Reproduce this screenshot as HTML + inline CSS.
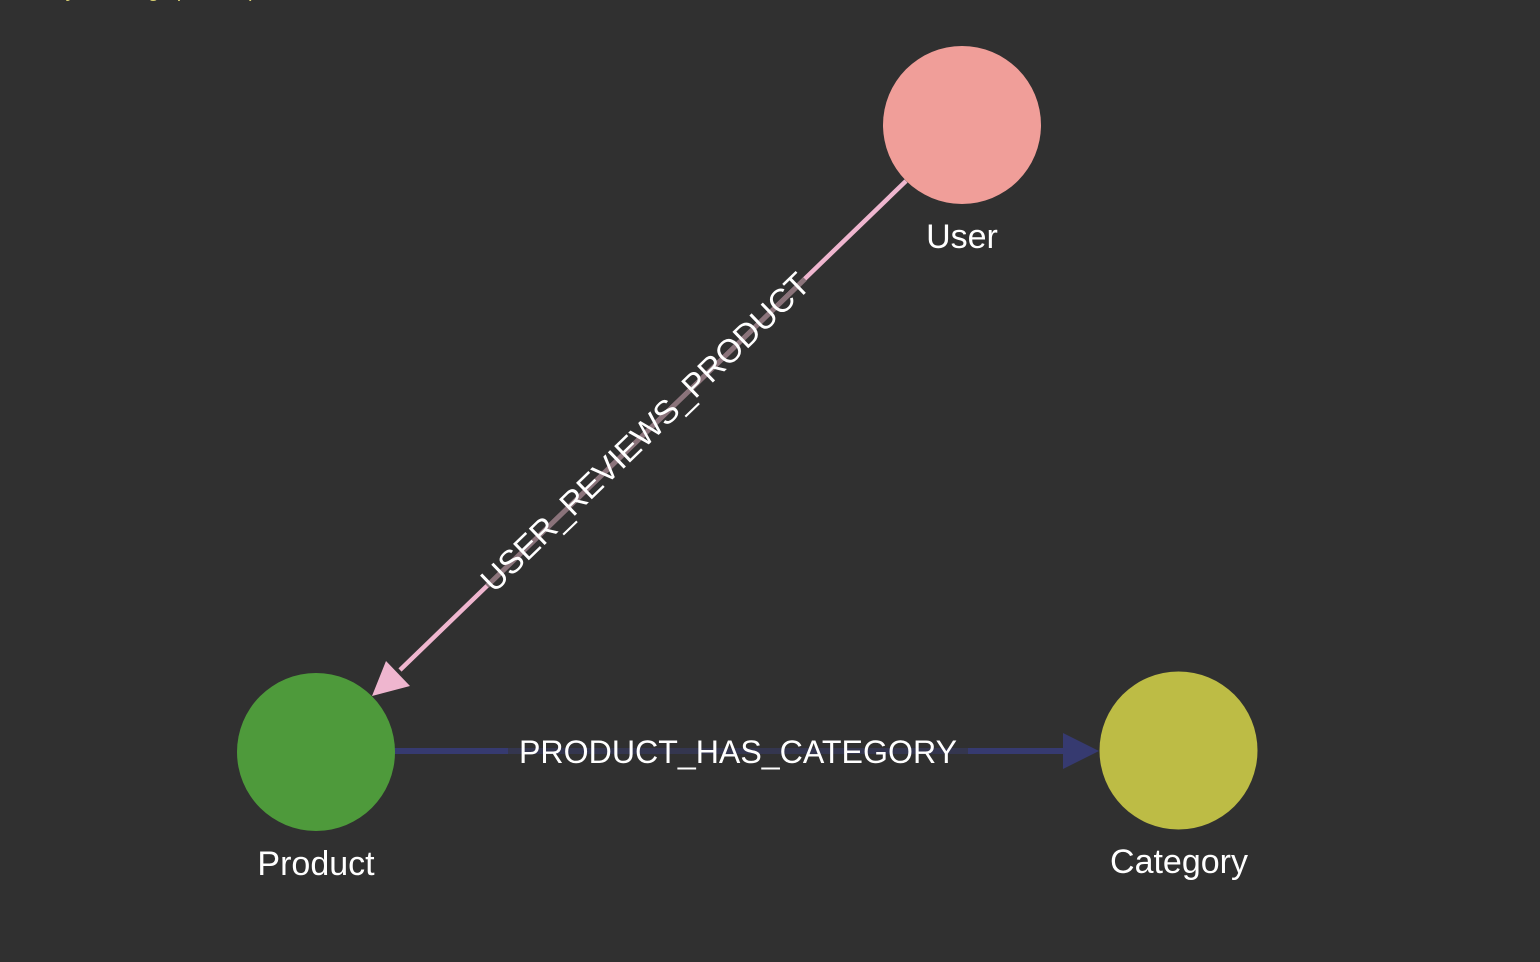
<!DOCTYPE html>
<html><head><meta charset="utf-8"><style>
html,body{margin:0;padding:0;background:#303030;}
svg{display:block}
text{font-family:"Liberation Sans",sans-serif;fill:#fff}
</style></head><body>
<svg width="1540" height="962" viewBox="0 0 1540 962">
<rect width="1540" height="962" fill="#303030"/>
<text x="0" y="-3" font-size="20" style="fill:#d8cf70">n the layout and graph to explore the schema view</text>
<!-- USER -> PRODUCT -->
<line x1="906" y1="181" x2="400" y2="670" stroke="#efb6cf" stroke-width="4.5"/>
<line x1="805" y1="279" x2="487" y2="586" stroke="#8a737a" stroke-width="5"/>
<polygon points="372,696 386,661 410,686" fill="#efb6cf"/>
<text x="0" y="0" font-size="33" text-anchor="middle" dominant-baseline="central" transform="translate(645,432) rotate(-44)" textLength="442" lengthAdjust="spacingAndGlyphs">USER_REVIEWS_PRODUCT</text>
<!-- PRODUCT -> CATEGORY -->
<line x1="394" y1="751" x2="1066" y2="751" stroke="#363a70" stroke-width="6"/>
<line x1="508" y1="751" x2="968" y2="751" stroke="#34364f" stroke-width="6"/>
<polygon points="1099,751 1063,733 1063,769" fill="#363a70"/>
<text x="738" y="752" font-size="32" text-anchor="middle" dominant-baseline="central" textLength="438" lengthAdjust="spacingAndGlyphs">PRODUCT_HAS_CATEGORY</text>
<!-- nodes -->
<circle cx="962" cy="125" r="79" fill="#f09e99"/>
<circle cx="316" cy="752" r="79" fill="#4e9a3b"/>
<circle cx="1178.5" cy="750.5" r="79" fill="#bdbc45"/>
<text x="962" y="248" font-size="34" text-anchor="middle">User</text>
<text x="316" y="875" font-size="34" text-anchor="middle">Product</text>
<text x="1179" y="873" font-size="34" text-anchor="middle">Category</text>
</svg>
</body></html>
